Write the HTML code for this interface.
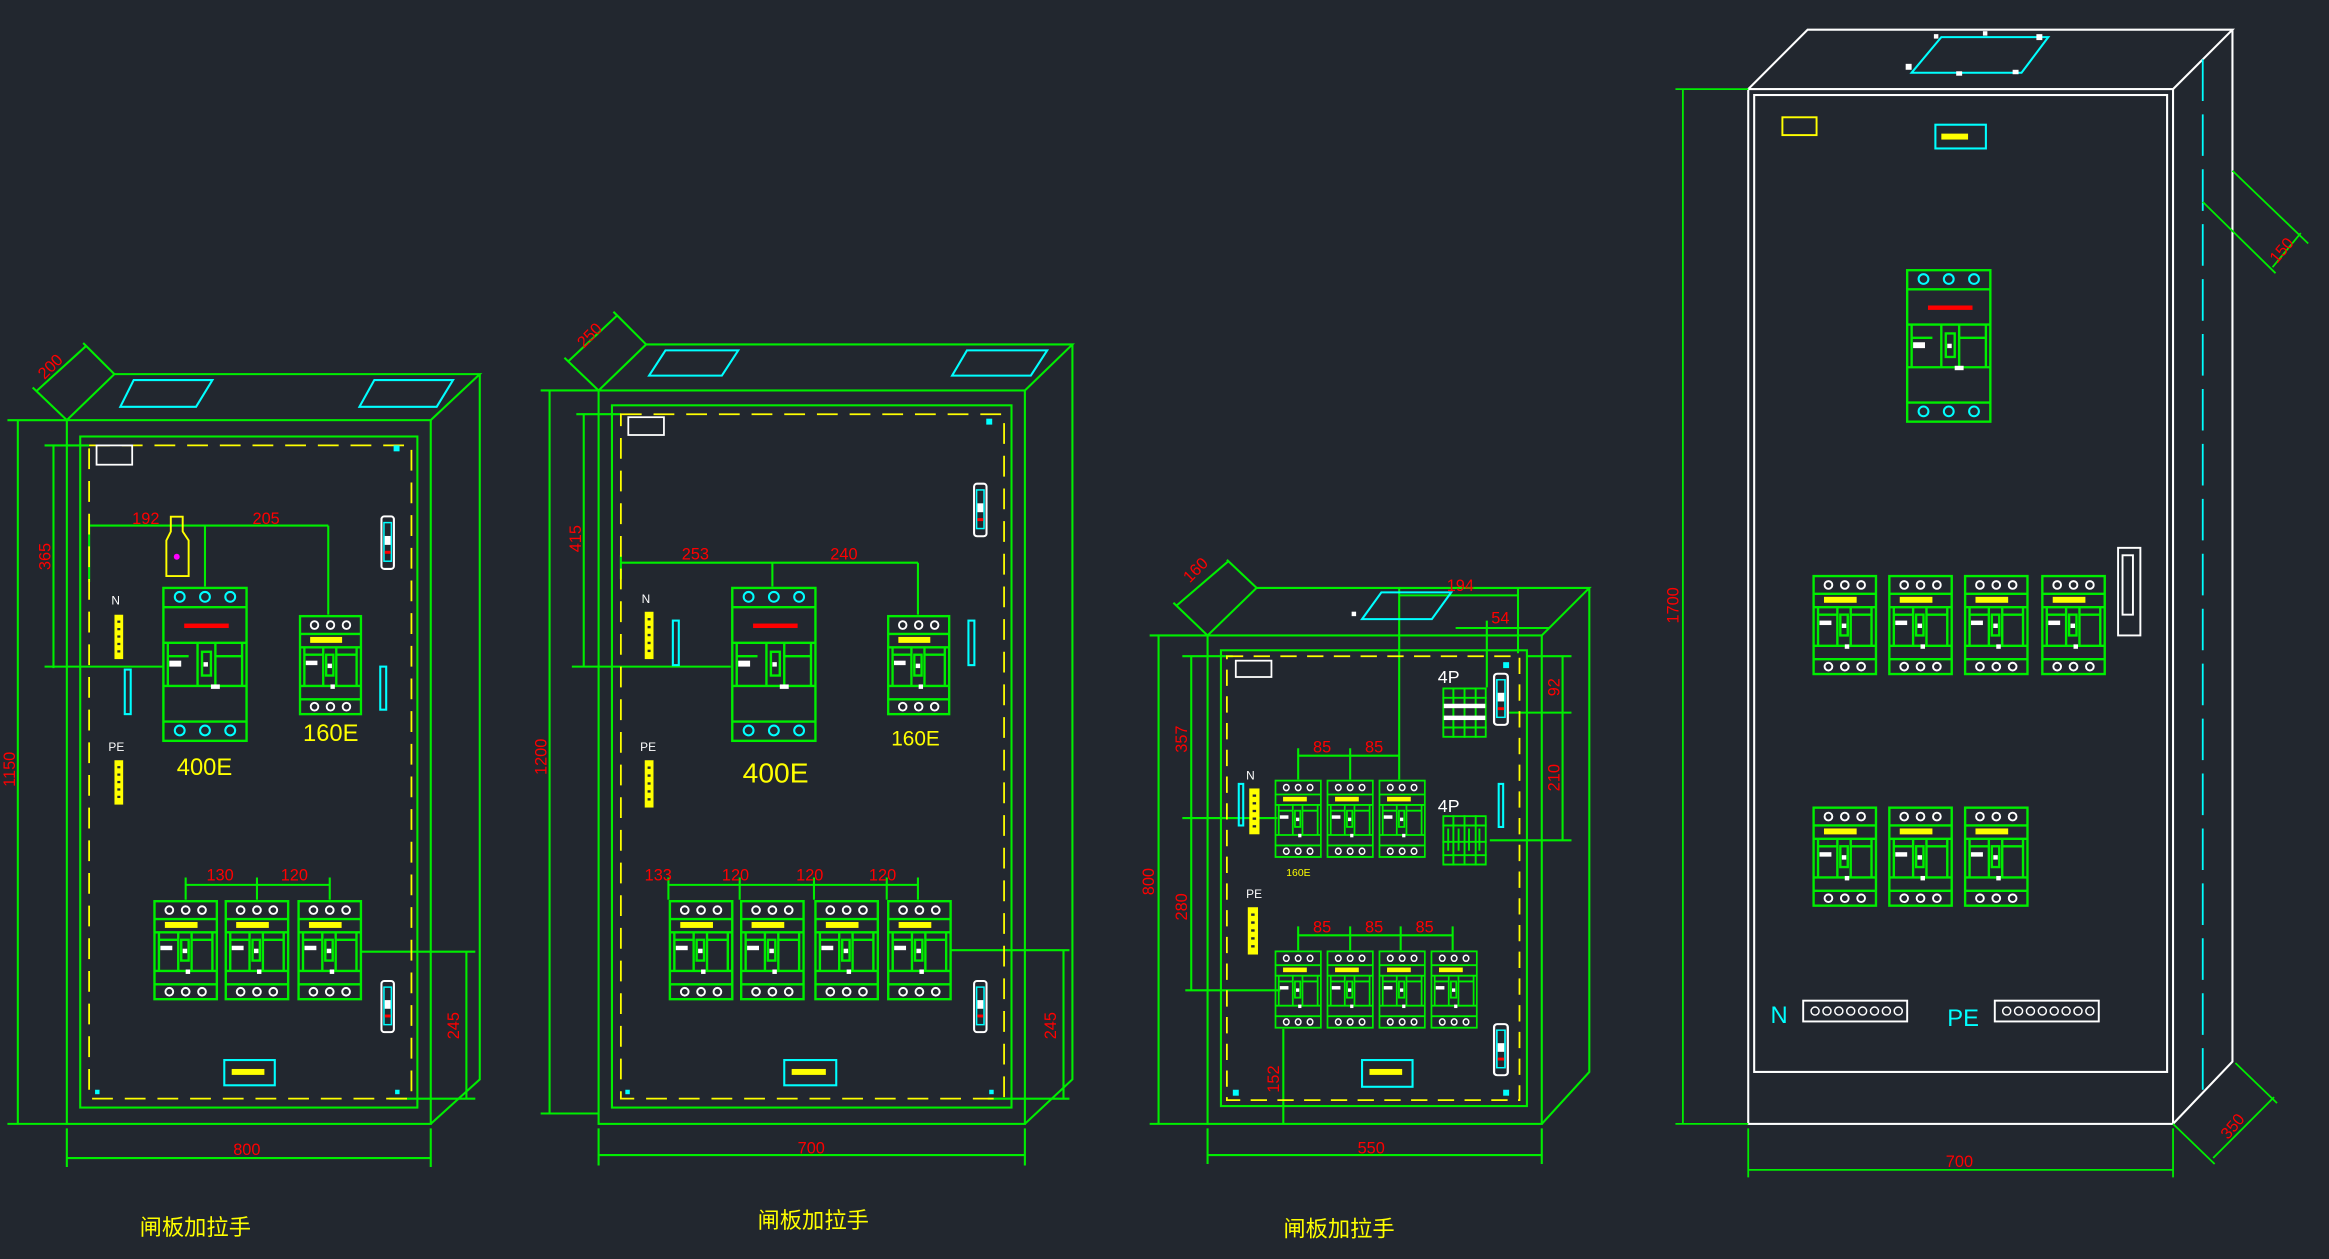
<!DOCTYPE html>
<html><head><meta charset="utf-8"><style>
html,body{margin:0;padding:0;background:#22272f;}
svg{display:block;}
text{font-family:"Liberation Sans","Noto Sans CJK SC",sans-serif;}
</style></head><body>
<svg width="2329" height="1259" viewBox="0 0 1568 848" preserveAspectRatio="none" xmlns="http://www.w3.org/2000/svg">
<defs>
<symbol id="mcb" viewBox="0 0 44 68" preserveAspectRatio="none">
 <g fill="none" stroke="#00ee00" stroke-width="1.6">
  <rect x="1" y="1" width="42" height="66"/>
  <path d="M1 13H43M1 22H43M1 48H43M1 57H43M4 22V48M40 22V48M17 22V48M26 22V48M4 27H17M26 27H40"/>
  <rect x="19" y="27" width="5" height="14"/>
 </g>
 <rect x="8" y="15" width="22" height="4" fill="#ffff00"/>
 <rect x="5" y="31" width="8" height="3" fill="#fff"/>
 <rect x="20" y="33" width="3" height="3" fill="#fff"/>
 <rect x="22" y="47" width="3" height="3" fill="#fff"/>
 <g fill="none" stroke="#fff" stroke-width="1.3">
  <circle cx="11" cy="7" r="2.6"/><circle cx="22" cy="7" r="2.6"/><circle cx="33" cy="7" r="2.6"/>
  <circle cx="11" cy="62" r="2.6"/><circle cx="22" cy="62" r="2.6"/><circle cx="33" cy="62" r="2.6"/>
 </g>
</symbol>
<symbol id="mccb" viewBox="0 0 58 105" preserveAspectRatio="none">
 <g fill="none" stroke="#00ee00" stroke-width="1.6">
  <rect x="1" y="1" width="56" height="103"/>
  <path d="M1 14H57M1 38H57M1 67H57M1 91H57M4 38V67M54 38V67M24 38V67M36 38V67M4 47H18M36 47H54"/>
  <rect x="27" y="44" width="6" height="16"/>
 </g>
 <rect x="15" y="25" width="30" height="3" fill="#ff0000"/>
 <rect x="5" y="50" width="8" height="4" fill="#fff"/>
 <rect x="28" y="51" width="3" height="3" fill="#fff"/>
 <rect x="33" y="66" width="6" height="3" fill="#fff"/>
 <g fill="none" stroke="#00ffff" stroke-width="1.4">
  <circle cx="12" cy="7" r="3.3"/><circle cx="29" cy="7" r="3.3"/><circle cx="46" cy="7" r="3.3"/>
  <circle cx="12" cy="97" r="3.3"/><circle cx="29" cy="97" r="3.3"/><circle cx="46" cy="97" r="3.3"/>
 </g>
</symbol>
<symbol id="lock" viewBox="0 0 10 37" preserveAspectRatio="none">
 <rect x="0.8" y="0.8" width="8.4" height="35.4" rx="2" fill="none" stroke="#fff" stroke-width="1.4"/>
 <rect x="2.5" y="5" width="5" height="26" fill="none" stroke="#00ffff" stroke-width="1"/>
 <rect x="3" y="14" width="4" height="6" fill="#fff"/>
 <rect x="3" y="24" width="4" height="2" fill="#ff0000"/>
</symbol>
<symbol id="bar" viewBox="0 0 6 30" preserveAspectRatio="none">
 <rect x="0" y="0" width="6" height="30" fill="#ffff00"/>
 <g fill="#22272f"><rect x="2" y="4" width="2" height="1.5"/><rect x="2" y="9" width="2" height="1.5"/><rect x="2" y="14" width="2" height="1.5"/><rect x="2" y="19" width="2" height="1.5"/><rect x="2" y="24" width="2" height="1.5"/></g>
</symbol>
<symbol id="p4" viewBox="0 0 30 34" preserveAspectRatio="none">
 <g fill="none" stroke="#00ee00" stroke-width="1.3">
  <rect x="0.7" y="0.7" width="28.6" height="32.6"/>
  <path d="M7.5 0V34M15 0V34M22.5 0V34M0 7H30M0 27H30"/>
 </g>
 <g fill="#fff"><rect x="1" y="11" width="28" height="3"/><rect x="1" y="19" width="28" height="3"/></g>
</symbol>
<symbol id="p4b" viewBox="0 0 30 34" preserveAspectRatio="none">
 <g fill="none" stroke="#00ee00" stroke-width="1.3">
  <rect x="0.7" y="0.7" width="28.6" height="32.6"/>
  <path d="M7.5 0V34M15 0V34M22.5 0V34M0 7H30M0 27H30M4 9V24M11 9V24M18 9V24M25 9V24M0 18H30"/>
 </g>
</symbol>
</defs>

<g fill="none" stroke="#00ee00" stroke-width="1.4">
<rect x="45" y="283" width="245" height="474"/>
<path d="M45 283L77 252H323L290 283M323 252V727L290 757"/>
<rect x="54" y="294" width="227" height="452"/>
<path d="M12 283V757M5 283H45M5 757H45"/>
<path d="M36 300V450M30 300H60M30 449H110"/>
<path d="M45 760V786M290 760V786M45 780H290"/>
<path d="M45 283L22 261M77 252L56 231M25 263L58 233"/>
<path d="M60 354H221M138 354V395M221 354V414M60 350V392"/>
<path d="M125 596H222M125 591V606M173 591V606M222 591V606"/>
<path d="M314 641V740M243 641H320M262 740H320"/>
</g>
<rect x="60" y="300" width="217" height="440" fill="none" stroke="#ffff00" stroke-width="1.2" stroke-dasharray="14 8"/>
<g fill="none" stroke="#00ffff" stroke-width="1.4">
<path d="M90 256H143L132 274H81Z"/><path d="M252 256H305L294 274H242Z"/>
<rect x="84" y="451" width="4" height="30"/><rect x="256" y="449" width="4" height="29"/>
<rect x="151" y="714" width="34" height="17"/>
</g>
<rect x="156" y="720" width="22" height="4" fill="#ffff00"/>
<rect x="65" y="300" width="24" height="13" fill="none" stroke="#fff" stroke-width="1.2"/>
<g fill="#00ffff"><rect x="265" y="300" width="4" height="4"/><rect x="64" y="734" width="3" height="3"/><rect x="266" y="734" width="3" height="3"/></g>
<path d="M115 348H123V358L127 364V388H112V364L115 358Z" fill="none" stroke="#ffff00" stroke-width="1.3"/>
<circle cx="119" cy="375" r="2" fill="#ff00ff"/>
<use href="#mccb" x="109" y="395" width="58" height="105"/>
<use href="#mcb" x="201" y="414" width="43" height="68"/>
<use href="#mcb" x="103" y="606" width="44" height="68"/>
<use href="#mcb" x="151" y="606" width="44" height="68"/>
<use href="#mcb" x="200" y="606" width="44" height="68"/>
<use href="#lock" x="256" y="347" width="10" height="37"/>
<use href="#lock" x="256" y="660" width="10" height="36"/>
<use href="#bar" x="77" y="414" width="6" height="30"/>
<use href="#bar" x="77" y="512" width="6" height="30"/>
<g fill="#fff" font-size="8"><text x="75" y="407">N</text><text x="73" y="506">PE</text></g>
<g fill="#ffff00" font-size="16"><text x="119" y="522">400E</text><text x="204" y="499">160E</text></g>
<g fill="#ff0000" font-size="11">
<text x="89" y="353">192</text><text x="170" y="353">205</text>
<text x="139" y="593">130</text><text x="189" y="593">120</text>
<text transform="translate(34 384) rotate(-90)">365</text>
<text transform="translate(10 530) rotate(-90)">1150</text>
<text transform="translate(309 700) rotate(-90)">245</text>
<text x="157" y="778">800</text>
<text transform="translate(30 256) rotate(-45)">200</text>
</g>
<text x="94" y="832" fill="#ffff00" font-size="15">闸板加拉手</text>

<g fill="none" stroke="#00ee00" stroke-width="1.4">
<rect x="403" y="263" width="287" height="494"/>
<path d="M403 263L435 232H722L690 263M722 232V727L690 757"/>
<rect x="412" y="273" width="269" height="473"/>
<path d="M370 263V750M364 263H403M364 750H403"/>
<path d="M393 279V449M388 279H418M385 449H492"/>
<path d="M403 760V785M690 760V785M403 778H690"/>
<path d="M403 263L380 241M435 232L413 210M383 243L416 212"/>
<path d="M418 379H618M520 379V395M618 379V414M418 374V390"/>
<path d="M450 596H618M450 591V606M498 591V606M548 591V606M597 591V606M618 591V606"/>
<path d="M716 640V740M640 640H720M665 740H720"/>
</g>
<rect x="418" y="279" width="258" height="461" fill="none" stroke="#ffff00" stroke-width="1.2" stroke-dasharray="14 8"/>
<g fill="none" stroke="#00ffff" stroke-width="1.4">
<path d="M448 236H497L486 253H437Z"/><path d="M651 236H705L694 253H641Z"/>
<rect x="453" y="418" width="4" height="30"/><rect x="652" y="418" width="4" height="30"/>
<rect x="528" y="714" width="35" height="17"/>
</g>
<rect x="533" y="720" width="23" height="4" fill="#ffff00"/>
<rect x="423" y="281" width="24" height="12" fill="none" stroke="#fff" stroke-width="1.2"/>
<g fill="#00ffff"><rect x="664" y="282" width="4" height="4"/><rect x="421" y="734" width="3" height="3"/><rect x="666" y="734" width="3" height="3"/></g>
<use href="#mccb" x="492" y="395" width="58" height="105"/>
<use href="#mcb" x="597" y="414" width="43" height="68"/>
<use href="#mcb" x="450" y="606" width="44" height="68"/>
<use href="#mcb" x="498" y="606" width="44" height="68"/>
<use href="#mcb" x="548" y="606" width="44" height="68"/>
<use href="#mcb" x="597" y="606" width="44" height="68"/>
<use href="#lock" x="655" y="325" width="10" height="37"/>
<use href="#lock" x="655" y="660" width="10" height="36"/>
<use href="#bar" x="434" y="412" width="6" height="32"/>
<use href="#bar" x="434" y="512" width="6" height="32"/>
<g fill="#fff" font-size="8"><text x="432" y="406">N</text><text x="431" y="506">PE</text></g>
<g fill="#ffff00"><text x="500" y="527" font-size="19">400E</text><text x="600" y="502" font-size="14">160E</text></g>
<g fill="#ff0000" font-size="11">
<text x="459" y="377">253</text><text x="559" y="377">240</text>
<text x="434" y="593">133</text><text x="486" y="593">120</text><text x="536" y="593">120</text><text x="585" y="593">120</text>
<text transform="translate(391 372) rotate(-90)">415</text>
<text transform="translate(368 522) rotate(-90)">1200</text>
<text transform="translate(711 700) rotate(-90)">245</text>
<text x="537" y="777">700</text>
<text transform="translate(393 235) rotate(-45)">250</text>
</g>
<text x="510" y="827" fill="#ffff00" font-size="15">闸板加拉手</text>

<g fill="none" stroke="#00ee00" stroke-width="1.4">
<rect x="813" y="428" width="225" height="329"/>
<path d="M813 428L846 396H1070L1038 428M1070 396V722L1038 757"/>
<rect x="822" y="438" width="206" height="307"/>
<path d="M780 428V757M774 428H813M774 757H813"/>
<path d="M802 442V667M796 442H830M796 551H860M798 667H862"/>
<path d="M813 760V784M1038 760V784M813 778H1038"/>
<path d="M813 428L790 406M846 396L826 377M792 408L827 378"/>
<path d="M942 401H1022M942 396V525M1022 396V440M980 423H1043M1001 418V463"/>
<path d="M874 509H942M874 504V525M909 504V525"/>
<path d="M874 630H978M874 624V640M909 624V640M943 624V640M978 624V640"/>
<path d="M1052 442V566M1028 442H1058M1016 480H1058M1003 566H1058"/>
<path d="M864 693V757"/>
</g>
<rect x="826" y="442" width="197" height="299" fill="none" stroke="#ffff00" stroke-width="1.2" stroke-dasharray="11 7"/>
<g fill="none" stroke="#00ffff" stroke-width="1.4">
<path d="M930 399H977L964 417H917Z"/>
<rect x="834" y="528" width="3" height="28"/><rect x="1009" y="528" width="3" height="29"/>
<rect x="917" y="714" width="34" height="18"/>
</g>
<rect x="922" y="720" width="22" height="4" fill="#ffff00"/>
<rect x="832" y="445" width="24" height="11" fill="none" stroke="#fff" stroke-width="1.2"/>
<g fill="#00ffff"><rect x="1012" y="446" width="4" height="4"/><rect x="830" y="734" width="4" height="4"/><rect x="1012" y="734" width="4" height="4"/></g>
<g fill="#fff"><rect x="910" y="412" width="3" height="3"/></g>
<use href="#mcb" x="858" y="525" width="32" height="53"/>
<use href="#mcb" x="893" y="525" width="32" height="53"/>
<use href="#mcb" x="928" y="525" width="32" height="53"/>
<use href="#mcb" x="858" y="640" width="32" height="53"/>
<use href="#mcb" x="893" y="640" width="32" height="53"/>
<use href="#mcb" x="928" y="640" width="32" height="53"/>
<use href="#mcb" x="963" y="640" width="32" height="53"/>
<use href="#p4" x="971" y="463" width="30" height="34"/>
<use href="#p4b" x="971" y="549" width="30" height="34"/>
<use href="#lock" x="1005" y="453" width="11" height="36"/>
<use href="#lock" x="1005" y="689" width="11" height="36"/>
<use href="#bar" x="841" y="531" width="7" height="31"/>
<use href="#bar" x="840" y="611" width="7" height="32"/>
<g fill="#fff"><text x="839" y="525" font-size="8">N</text><text x="839" y="605" font-size="8">PE</text><text x="968" y="460" font-size="12">4P</text><text x="968" y="547" font-size="12">4P</text></g>
<text x="866" y="590" fill="#ffff00" font-size="7">160E</text>
<g fill="#ff0000" font-size="11">
<text x="974" y="398">194</text><text x="1004" y="420">54</text>
<text x="884" y="507">85</text><text x="919" y="507">85</text>
<text x="884" y="628">85</text><text x="919" y="628">85</text><text x="953" y="628">85</text>
<text transform="translate(799 507) rotate(-90)">357</text>
<text transform="translate(799 620) rotate(-90)">280</text>
<text transform="translate(777 603) rotate(-90)">800</text>
<text transform="translate(861 736) rotate(-90)">152</text>
<text transform="translate(1050 469) rotate(-90)">92</text>
<text transform="translate(1050 533) rotate(-90)">210</text>
<text x="914" y="777">550</text>
<text transform="translate(801 393) rotate(-45)">160</text>
</g>
<text x="864" y="833" fill="#ffff00" font-size="15">闸板加拉手</text>

<g fill="none" stroke="#fff" stroke-width="1.4">
<rect x="1177" y="60" width="286" height="697"/>
<path d="M1177 60L1217 20H1503L1463 60M1503 20V715L1463 757"/>
<rect x="1181" y="64" width="278" height="658"/>
</g>
<path d="M1483 40V735" stroke="#00ffff" stroke-width="1.2" stroke-dasharray="28 9"/>
<g fill="none" stroke="#00ee00" stroke-width="1.2">
<path d="M1133 60V757M1128 60H1177M1128 757H1177"/>
<path d="M1177 760V793M1463 760V793M1177 788H1463"/>
<path d="M1503 115L1554 164M1483 136L1532 184M1549 157L1530 180"/>
<path d="M1463 757L1491 784M1505 716L1533 743M1490 780L1531 739"/>
</g>
<g fill="none" stroke="#00ffff" stroke-width="1.4">
<path d="M1307 25H1379L1361 49H1287Z"/>
<rect x="1303" y="84" width="34" height="16"/>
</g>
<g fill="#fff"><rect x="1283" y="43" width="4" height="4"/><rect x="1317" y="48" width="4" height="3"/><rect x="1355" y="47" width="4" height="3"/><rect x="1371" y="23" width="4" height="4"/><rect x="1302" y="23" width="3" height="3"/><rect x="1335" y="21" width="3" height="3"/></g>
<rect x="1307" y="90" width="18" height="4" fill="#ffff00"/>
<rect x="1200" y="79" width="23" height="12" fill="none" stroke="#ffff00" stroke-width="1.3"/>
<use href="#mccb" x="1283" y="181" width="58" height="104"/>
<use href="#mcb" x="1220" y="387" width="44" height="68"/>
<use href="#mcb" x="1271" y="387" width="44" height="68"/>
<use href="#mcb" x="1322" y="387" width="44" height="68"/>
<use href="#mcb" x="1374" y="387" width="44" height="68"/>
<use href="#mcb" x="1220" y="543" width="44" height="68"/>
<use href="#mcb" x="1271" y="543" width="44" height="68"/>
<use href="#mcb" x="1322" y="543" width="44" height="68"/>
<g fill="none" stroke="#fff" stroke-width="1.3">
<rect x="1426" y="369" width="15" height="59"/>
<rect x="1429" y="374" width="7" height="40"/>
<rect x="1214" y="674" width="70" height="14"/>
<rect x="1343" y="674" width="70" height="14"/>
</g>
<g fill="none" stroke="#fff" stroke-width="1">
<circle cx="1222" cy="681" r="2.7"/><circle cx="1230" cy="681" r="2.7"/><circle cx="1238" cy="681" r="2.7"/><circle cx="1246" cy="681" r="2.7"/><circle cx="1254" cy="681" r="2.7"/><circle cx="1262" cy="681" r="2.7"/><circle cx="1270" cy="681" r="2.7"/><circle cx="1278" cy="681" r="2.7"/>
<circle cx="1351" cy="681" r="2.7"/><circle cx="1359" cy="681" r="2.7"/><circle cx="1367" cy="681" r="2.7"/><circle cx="1375" cy="681" r="2.7"/><circle cx="1383" cy="681" r="2.7"/><circle cx="1391" cy="681" r="2.7"/><circle cx="1399" cy="681" r="2.7"/><circle cx="1407" cy="681" r="2.7"/>
</g>
<g fill="#00ffff" font-size="16"><text x="1192" y="689">N</text><text x="1311" y="691">PE</text></g>
<g fill="#ff0000" font-size="11">
<text transform="translate(1130 420) rotate(-90)">1700</text>
<text x="1310" y="786">700</text>
<text transform="translate(1533 178) rotate(-50)">150</text>
<text transform="translate(1500 768) rotate(-50)">350</text>
</g>
</svg>
</body></html>
